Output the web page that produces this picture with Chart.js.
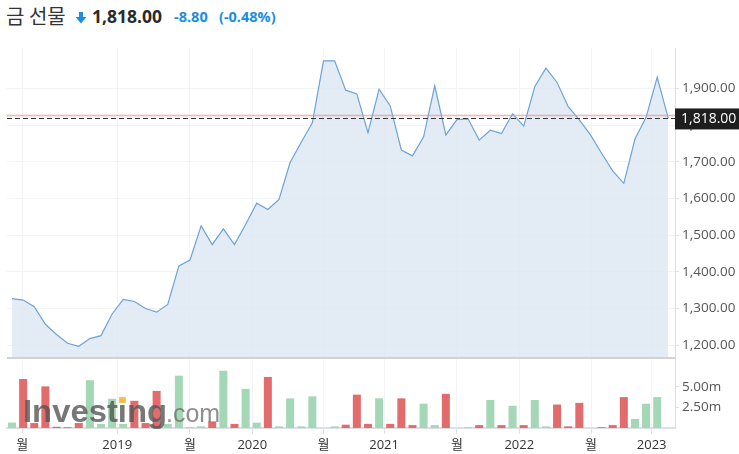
<!DOCTYPE html>
<html>
<head>
<meta charset="utf-8">
<script src="https://cdn.jsdelivr.net/npm/chart.js@4/dist/chart.umd.min.js"></script>
<style>
  html, body { margin: 0; padding: 0; background: #fff; }
  #wrap { position: relative; width: 739px; height: 454px; }
  #chart { position: absolute; left: 0; top: 0; }
  .hd { position: absolute; white-space: nowrap; font-family: "Open Sans", "Noto Sans CJK KR", sans-serif; }
  #name { left: 6px; top: 1px; font-size: 20px; color: #333; font-family: "Noto Sans CJK KR", sans-serif; }
  #arrow { left: 75px; top: 12px; }
  #last { left: 92px; top: 4px; font-size: 17.5px; font-weight: 700; color: #2a2a2a; }
  #chg { left: 174px; top: 7px; font-size: 14.5px; font-weight: 700; color: #1b8ee0; }
  #pct { left: 219px; top: 7px; font-size: 14.5px; font-weight: 700; color: #1b8ee0; }
</style>
</head>
<body>
<div id="wrap">
  <span class="hd" id="name">금 선물</span>
  <svg class="hd" id="arrow" width="12" height="12" viewBox="0 0 12 12"><path d="M4 0 H8 V5 H11.5 L6 11.5 L0.5 5 H4 Z" fill="#1b8ee0"/></svg>
  <span class="hd" id="last"></span>
  <span class="hd" id="chg"></span>
  <span class="hd" id="pct"></span>
  <canvas id="chart" width="739" height="454"></canvas>
</div>
<script>
// monthly closes, mid 2018 .. early 2023
const prices = [1327, 1323, 1305, 1257, 1229, 1205, 1197, 1218, 1226, 1285,
  1325, 1319, 1300, 1290, 1311, 1416, 1432, 1525, 1474, 1517,
  1474, 1529, 1587, 1570, 1597, 1698, 1753, 1806, 1975, 1975,
  1895, 1885, 1779, 1898, 1852, 1732, 1716, 1768, 1907, 1773,
  1815, 1817, 1759, 1786, 1777, 1831, 1797, 1905, 1955, 1916,
  1850, 1814, 1773, 1723, 1675, 1641, 1762, 1821, 1930, 1818];
// volume in millions
const volumes = [0.65, 5.95, 0.6, 5.05, 0.15, 0.1, 0.6, 5.8, 0.5, 3.55,
  0.5, 3.3, 0.6, 4.5, 0.5, 6.35, 0.1, 0.2, 0.8, 6.95,
  0.5, 4.75, 0.65, 6.2, 0.2, 3.6, 0.2, 3.85, 0, 0.2,
  0.4, 4.05, 0.5, 3.6, 0.5, 3.6, 0.35, 2.95, 0.35, 4.15,
  0, 0.1, 0.35, 3.4, 0.35, 2.7, 0.35, 3.4, 0.2, 2.85,
  0.2, 3.05, 0, 0.1, 0.35, 3.75, 1.1, 2.95, 3.75, 0];
// 1 = up bar (green), -1 = down bar (red)
const volDir = [1, -1, -1, -1, -1, -1, -1, 1, 1, 1,
  1, -1, -1, -1, 1, 1, 1, 1, -1, 1,
  -1, 1, 1, -1, 1, 1, 1, 1, 1, 1,
  -1, -1, -1, 1, -1, -1, -1, 1, 1, -1,
  1, 1, -1, 1, -1, 1, -1, 1, 1, -1,
  -1, -1, 1, -1, -1, -1, 1, 1, 1, 1];
const xTickAt = [0.93, 9.46, 16.0, 21.6, 28.0, 33.45, 40.0, 45.6, 52.05, 57.5];
const xTickLabels = ['월', '2019', '월', '2020', '월', '2021', '월', '2022', '월', '2023'];
const priceTicks = [1200, 1300, 1400, 1500, 1600, 1700, 1800, 1900];
const volTicks = [2.5, 5];
const lastPrice = 1818.00;
const prevClose = 1826.80;

const fmt = v => v.toLocaleString('en-US', { minimumFractionDigits: 2, maximumFractionDigits: 2 });
const change = lastPrice - prevClose;
document.getElementById('last').textContent = fmt(lastPrice);
document.getElementById('chg').textContent = change.toFixed(2);
document.getElementById('pct').textContent = '(' + (change / prevClose * 100).toFixed(2) + '%)';

const axisFont = { family: '"Open Sans", sans-serif', size: 13.5 };

const overlay = {
  id: 'overlay',
  afterDatasetsDraw(chart) {
    const { ctx, chartArea: a, scales: { y } } = chart;
    ctx.save();
    // pane separator
    ctx.strokeStyle = '#d2d2d2';
    ctx.lineWidth = 2;
    ctx.beginPath();
    ctx.moveTo(a.left, y.bottom);
    ctx.lineTo(a.right, y.bottom);
    ctx.stroke();
    // previous close
    const yp = Math.round(y.getPixelForValue(prevClose)) + 0.5;
    ctx.strokeStyle = 'rgba(240,140,140,0.65)';
    ctx.lineWidth = 1.5;
    ctx.beginPath();
    ctx.moveTo(a.left, yp);
    ctx.lineTo(a.right, yp);
    ctx.stroke();
    // last price
    const yl = Math.round(y.getPixelForValue(lastPrice)) + 0.5;
    ctx.strokeStyle = '#333';
    ctx.lineWidth = 1;
    ctx.setLineDash([5, 3]);
    ctx.beginPath();
    ctx.moveTo(a.left, yl);
    ctx.lineTo(a.right, yl);
    ctx.stroke();
    ctx.setLineDash([]);
    // watermark
    ctx.font = 'bold 31px "Liberation Sans", sans-serif';
    const word = 'Investing';
    const w = ctx.measureText(word).width;
    const sx = 144 / w;
    const wi0 = ctx.measureText('Invest').width;
    const wi = ctx.measureText('i').width;
    ctx.save();
    ctx.translate(23, 422);
    ctx.scale(sx, 1);
    ctx.fillStyle = 'rgba(85,85,85,0.8)';
    ctx.fillText(word, 0, 0);
    ctx.restore();
    ctx.fillStyle = 'rgba(250,190,70,0.95)';
    const dx = 23 + (wi0 + wi / 2) * sx;
    ctx.fillRect(dx - 3.5, 397, 7, 6);
    ctx.font = '25px "Liberation Sans", sans-serif';
    ctx.fillStyle = 'rgba(105,105,105,0.75)';
    ctx.fillText('.com', 166, 422);
    ctx.restore();
  },
  afterDraw(chart) {
    const { ctx, chartArea: a, scales: { y } } = chart;
    const yl = y.getPixelForValue(lastPrice);
    ctx.save();
    ctx.fillStyle = '#1e1e1e';
    ctx.fillRect(a.right, yl - 10, chart.width - a.right, 21);
    ctx.fillStyle = '#fff';
    ctx.font = '14px "Open Sans", sans-serif';
    ctx.textBaseline = 'middle';
    ctx.fillText(fmt(lastPrice), a.right + 6, yl + 0.5);
    ctx.restore();
  }
};

new Chart(document.getElementById('chart'), {
  data: {
    datasets: [{
      type: 'line',
      data: prices.map((v, i) => ({ x: i, y: v })),
      yAxisID: 'y',
      borderColor: 'rgb(108,164,214)',
      borderWidth: 1.2,
      backgroundColor: 'rgba(222,232,243,0.85)',
      fill: 'start',
      pointRadius: 0,
      tension: 0
    }, {
      type: 'bar',
      data: volumes.map((v, i) => ({ x: i, y: v })),
      yAxisID: 'yv',
      backgroundColor: volDir.map(d => d > 0 ? '#a4d7b6' : '#e26b6b'),
      barPercentage: 0.72,
      categoryPercentage: 1
    }]
  },
  options: {
    responsive: false,
    animation: false,
    layout: { padding: { top: 48, left: 7, right: 0, bottom: 0 } },
    plugins: { legend: { display: false }, tooltip: { enabled: false } },
    scales: {
      x: {
        type: 'linear',
        offset: false,
        min: -0.45,
        max: 59.6,
        afterBuildTicks: s => { s.ticks = xTickAt.map(v => ({ value: v })); },
        afterFit: s => { s.height = 26; },
        ticks: {
          autoSkip: false, maxRotation: 0, padding: 3, color: '#333',
          font: { family: '"Open Sans", "Noto Sans CJK KR", sans-serif', size: 13 },
          callback: (v, i) => xTickLabels[i]
        },
        grid: { offset: false, color: '#f2f3f6', tickLength: 6, tickColor: '#dde0e6' },
        border: { color: '#dcdfe5', width: 2 }
      },
      y: {
        position: 'right',
        stack: 'panes',
        stackWeight: 310,
        min: 1165,
        max: 2010,
        afterBuildTicks: s => { s.ticks = priceTicks.map(v => ({ value: v })); },
        afterFit: s => { s.width = 64; },
        ticks: { color: '#555', padding: 3, font: axisFont, callback: v => fmt(v) },
        grid: { color: '#f2f3f5', tickLength: 4, tickColor: '#dde0e6' },
        border: { color: '#dcdfe5' }
      },
      yv: {
        position: 'right',
        stack: 'panes',
        stackWeight: 70,
        min: 0,
        max: 8.5,
        afterBuildTicks: s => { s.ticks = volTicks.map(v => ({ value: v })); },
        afterFit: s => { s.width = 64; },
        ticks: { color: '#555', padding: 3, font: axisFont, callback: v => v.toFixed(2) + 'm' },
        grid: { drawOnChartArea: false, tickLength: 4, tickColor: '#dde0e6' },
        border: { color: '#dcdfe5' }
      }
    }
  },
  plugins: [overlay]
});
</script>
</body>
</html>
